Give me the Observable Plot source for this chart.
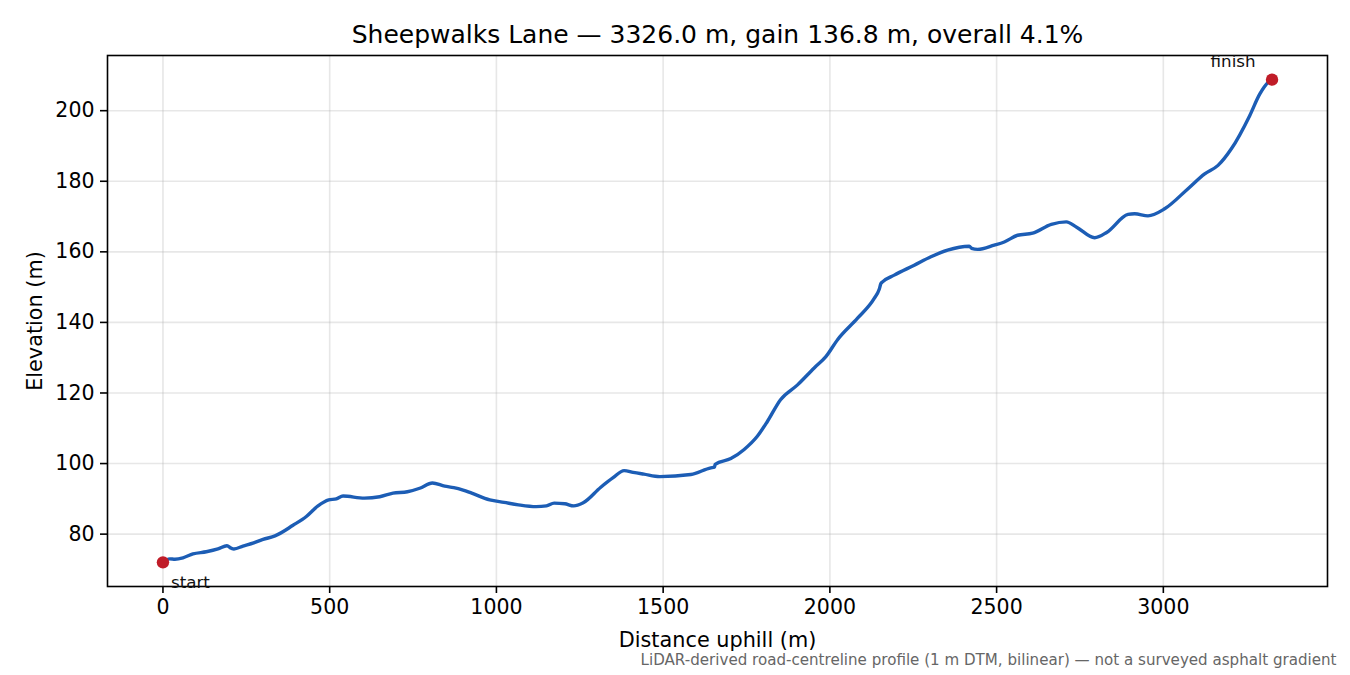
<!DOCTYPE html>
<html>
<head>
<meta charset="utf-8">
<script src="https://cdn.jsdelivr.net/npm/d3@7"></script>
<script src="https://cdn.jsdelivr.net/npm/@observablehq/plot@0.6"></script>
<style>
  html, body { margin: 0; padding: 0; background: #fff; }
  #chart svg { display: block; }
</style>
</head>
<body>
<div id="chart"></div>
<script>
const distance = [0, 20, 36, 60, 90, 130, 165, 192, 205, 213, 240, 272, 300, 336, 390, 430, 465, 497, 520, 540, 604, 650, 690, 733, 770, 808, 845, 872, 900, 926, 980, 1023, 1066, 1119, 1150, 1173, 1205, 1232, 1259, 1313, 1350, 1383, 1410, 1442, 1490, 1583, 1643, 1654, 1656, 1703, 1743, 1783, 1813, 1852, 1903, 1953, 1988, 2023, 2083, 2133, 2148, 2153, 2158, 2193, 2253, 2303, 2353, 2418, 2425, 2443, 2493, 2523, 2563, 2608, 2664, 2709, 2740, 2794, 2830, 2894, 2914, 2954, 3004, 3074, 3124, 3164, 3204, 3259, 3289, 3314, 3326];
const elevation = [72.0, 73.0, 72.9, 73.3, 74.4, 75.0, 75.8, 76.7, 76.0, 75.8, 76.6, 77.5, 78.5, 79.5, 82.5, 85.0, 88.0, 89.7, 90.0, 90.8, 90.2, 90.6, 91.6, 92.0, 93.0, 94.5, 93.6, 93.2, 92.5, 91.6, 89.7, 89.0, 88.3, 87.8, 88.0, 88.8, 88.6, 88.0, 88.8, 93.3, 96.0, 98.0, 97.5, 97.0, 96.3, 96.9, 98.8, 99.0, 99.8, 101.4, 104.0, 107.8, 112.0, 118.1, 122.3, 127.1, 130.3, 135.1, 141.2, 146.8, 149.4, 151.0, 151.5, 153.4, 156.2, 158.6, 160.5, 161.6, 161.0, 160.7, 161.9, 162.8, 164.7, 165.3, 167.8, 168.5, 167.0, 164.0, 165.5, 170.6, 170.8, 170.2, 172.2, 177.9, 182.1, 184.5, 189.2, 198.6, 204.7, 208.0, 208.8];
const xTicks = [0, 500, 1000, 1500, 2000, 2500, 3000];
const yTicks = [80, 100, 120, 140, 160, 180, 200];
const endpointLabels = ["start", "finish"];
const titleText = "Sheepwalks Lane — 3326.0 m, gain 136.8 m, overall 4.1%";
const xLabel = "Distance uphill (m)";
const yLabel = "Elevation (m)";
const captionText = "LiDAR-derived road-centreline profile (1 m DTM, bilinear) — not a surveyed asphalt gradient";

const profile = distance.map((d, i) => ({d, e: elevation[i]}));
const n = profile.length;
const startPt = [profile[0]];
const finishPt = [profile[n - 1]];

const xMin = distance[0], xMax = distance[n - 1];
const yMin = d3.min(elevation), yMax = d3.max(elevation);
const xPad = (xMax - xMin) * 0.05, yPad = (yMax - yMin) * 0.05;

const font = "DejaVu Sans, sans-serif";
const fmt = d3.format("d");

const chart = Plot.plot({
  width: 1350,
  height: 675,
  marginLeft: 107,
  marginRight: 23,
  marginTop: 55,
  marginBottom: 89,
  style: {fontFamily: font, background: "#fff"},
  x: {domain: [xMin - xPad, xMax + xPad]},
  y: {domain: [yMin - yPad, yMax + yPad]},
  marks: [
    Plot.gridX(xTicks, {stroke: "#b0b0b0", strokeOpacity: 0.3, strokeWidth: 1.6}),
    Plot.gridY(yTicks, {stroke: "#b0b0b0", strokeOpacity: 0.3, strokeWidth: 1.6}),
    Plot.line(profile, {x: "d", y: "e", stroke: "#1c5db5", strokeWidth: 3.4, strokeLinejoin: "round", curve: "monotone-x"}),
    Plot.dot(startPt, {x: "d", y: "e", r: 6.2, fill: "#c01c28", stroke: "none"}),
    Plot.dot(finishPt, {x: "d", y: "e", r: 6.2, fill: "#c01c28", stroke: "none"}),
    Plot.frame({stroke: "#000", strokeWidth: 1.6}),
    Plot.axisX(xTicks, {anchor: "bottom", tickSize: 7, tickPadding: 6, fontSize: 20.5, tickFormat: fmt, label: null, stroke: "#000", strokeWidth: 1.6, fill: "#000"}),
    Plot.axisY(yTicks, {anchor: "left", tickSize: 7, tickPadding: 6, fontSize: 20.5, tickFormat: fmt, label: null, stroke: "#000", strokeWidth: 1.6, fill: "#000"}),
    Plot.text(startPt, {x: "d", y: "e", text: () => endpointLabels[0], dx: 8, dy: 20, textAnchor: "start", lineAnchor: "middle", fontSize: 16.7, fill: "#111"}),
    Plot.text(finishPt, {x: "d", y: "e", text: () => endpointLabels[1], dx: -39, dy: -18, textAnchor: "middle", lineAnchor: "middle", fontSize: 16.7, fill: "#111"}),
    Plot.text([titleText], {frameAnchor: "top", lineAnchor: "middle", dy: -21, fontSize: 25, fill: "#000"}),
    Plot.text([xLabel], {frameAnchor: "bottom", lineAnchor: "middle", dy: 54, fontSize: 20.8, fill: "#000"}),
    Plot.text([yLabel], {frameAnchor: "left", textAnchor: "middle", lineAnchor: "middle", dx: -72, rotate: -90, fontSize: 20.8, fill: "#000"}),
    Plot.text([captionText], {frameAnchor: "bottom-right", textAnchor: "end", lineAnchor: "middle", dx: 9, dy: 74, fontSize: 15.1, fill: "#666"})
  ]
});
document.getElementById("chart").appendChild(chart);
</script>
</body>
</html>
